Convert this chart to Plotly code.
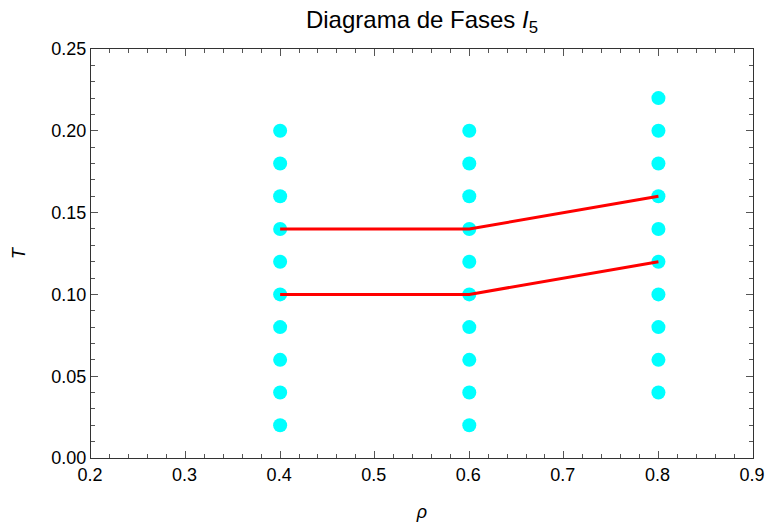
import plotly.graph_objects as go

# Data
rho_04 = [0.4] * 10
T_04 = [0.02, 0.04, 0.06, 0.08, 0.10, 0.12, 0.14, 0.16, 0.18, 0.20]
rho_06 = [0.6] * 10
T_06 = [0.02, 0.04, 0.06, 0.08, 0.10, 0.12, 0.14, 0.16, 0.18, 0.20]
rho_08 = [0.8] * 10
T_08 = [0.04, 0.06, 0.08, 0.10, 0.12, 0.14, 0.16, 0.18, 0.20, 0.22]

line_upper_rho = [0.4, 0.6, 0.8]
line_upper_T = [0.14, 0.14, 0.16]
line_lower_rho = [0.4, 0.6, 0.8]
line_lower_T = [0.10, 0.10, 0.12]

x_ticks = [0.2, 0.3, 0.4, 0.5, 0.6, 0.7, 0.8, 0.9]
y_ticks = [0.0, 0.05, 0.10, 0.15, 0.20, 0.25]

fig = go.Figure()
marker = dict(color="#00FFFF", size=14)
for xs, ys in [(rho_04, T_04), (rho_06, T_06), (rho_08, T_08)]:
    fig.add_trace(go.Scatter(x=xs, y=ys, mode="markers", marker=marker,
                             showlegend=False, hoverinfo="x+y"))
for xs, ys in [(line_upper_rho, line_upper_T), (line_lower_rho, line_lower_T)]:
    fig.add_trace(go.Scatter(x=xs, y=ys, mode="lines",
                             line=dict(color="#FF0000", width=3),
                             showlegend=False))

font_family = "Liberation Sans, Arial, sans-serif"
axis_common = dict(
    showgrid=False, zeroline=False, showline=True, linecolor="#333333",
    linewidth=1, mirror="allticks", ticks="inside", ticklen=7, tickwidth=1,
    automargin=False,
    tickcolor="#555555", tickfont=dict(size=18, color="#000000", family=font_family),
)

fig.update_layout(
    width=765, height=523,
    margin=dict(l=91, r=12, t=49, b=65),
    paper_bgcolor="white", plot_bgcolor="white",
    title=dict(text="Diagrama de Fases <i>I</i><sub>5</sub>", x=0.5, xanchor="center",
               xref="paper", y=0.962, yanchor="middle",
               font=dict(size=24, color="#000000", family=font_family)),
    xaxis=dict(range=[0.2, 0.9], tickvals=x_ticks,
               ticktext=[f"{v:.1f}" for v in x_ticks],
               ticklabelshift=-1,
               minor=dict(dtick=0.02, ticks="inside", ticklen=4, tickcolor="#555555", showgrid=False),
               title=dict(text="<i>ρ</i>", font=dict(size=18, family=font_family, color="#000"),
                          standoff=21),
               **axis_common),
    yaxis=dict(range=[0, 0.25], tickvals=y_ticks,
               ticktext=[f"{v:.2f}" for v in y_ticks],
               minor=dict(dtick=0.01, ticks="inside", ticklen=4, tickcolor="#555555", showgrid=False),
               title=dict(text="<i>T</i>", font=dict(size=18, family=font_family, color="#000"),
                          standoff=21),
               **axis_common),
)

fig.write_html("out.html", config={"displayModeBar": False},
               post_script="document.body.style.margin='0';document.body.style.padding='0';")
